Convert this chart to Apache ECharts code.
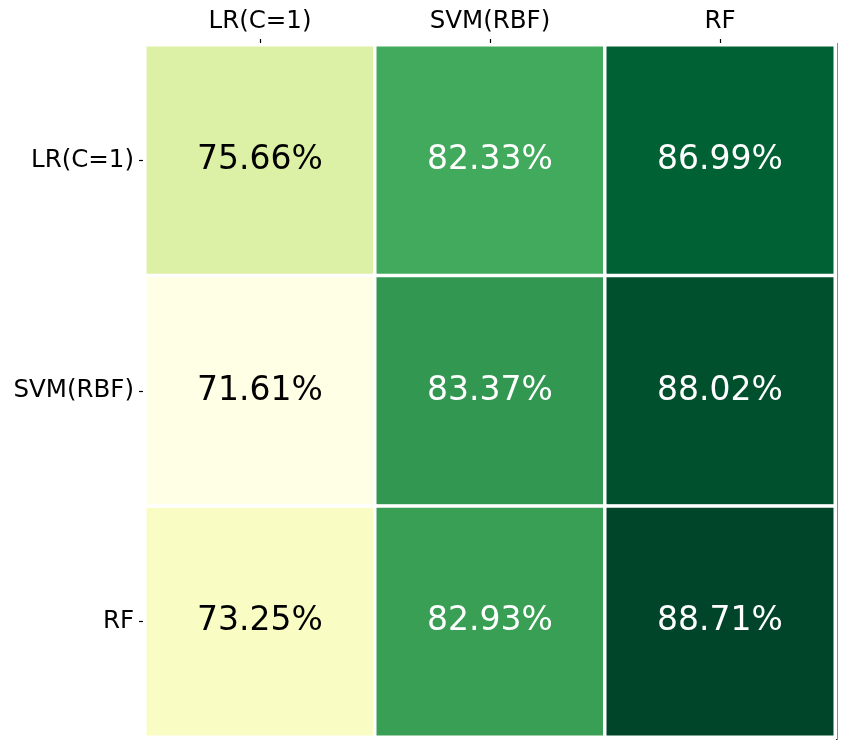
<!DOCTYPE html>
<html>
<head>
<meta charset="utf-8">
<script src="https://cdn.jsdelivr.net/npm/echarts@6/dist/echarts.min.js"></script>
<style>
  html, body { margin: 0; padding: 0; background: #fff; }
  #chart { width: 847px; height: 748px; }
</style>
</head>
<body>
<div id="chart"></div>
<script>
// categories (columns = top axis, rows = left axis)
var colLabels = ['LR(C=1)', 'SVM(RBF)', 'RF'];
var rowLabels = ['LR(C=1)', 'SVM(RBF)', 'RF'];

// accuracy per row, one array per row
var rowLR  = [75.66, 82.33, 86.99];
var rowSVM = [71.61, 83.37, 88.02];
var rowRF  = [73.25, 82.93, 88.71];
var rows = [rowLR, rowSVM, rowRF];

// YlGn colormap
var ylgn = ['#ffffe5', '#f7fcb9', '#d9f0a3', '#addd8e', '#78c679',
            '#41ab5d', '#238443', '#006837', '#004529'];

var cells = [];
var allVals = [];
rows.forEach(function(r, i) {
  r.forEach(function(v, j) {
    allVals.push(v);
    cells.push({
      value: [j, i, v],
      label: { color: v > 80 ? '#ffffff' : '#000000' }
    });
  });
});
var vMin = Math.min.apply(null, allVals);
var vMax = Math.max.apply(null, allVals);

var font = 'DejaVu Sans';
var chart = echarts.init(document.getElementById('chart'));

var option = {
  backgroundColor: '#fff',
  animation: false,
  textStyle: { fontFamily: font },
  grid: { left: 145, top: 45, width: 690, height: 692 },
  xAxis: {
    type: 'category',
    position: 'top',
    data: colLabels,
    axisLine: { show: false },
    axisTick: { show: true, alignWithLabel: true, length: 6, lineStyle: { color: '#000', width: 1.2 } },
    axisLabel: { fontFamily: font, fontSize: 24.5, color: '#000', margin: 11 },
    splitLine: { show: false }
  },
  yAxis: {
    type: 'category',
    inverse: true,
    data: rowLabels,
    axisLine: { show: false },
    axisTick: { show: true, alignWithLabel: true, length: 6, lineStyle: { color: '#000', width: 1.2 } },
    axisLabel: { fontFamily: font, fontSize: 24.5, color: '#000', margin: 11 },
    splitLine: { show: false }
  },
  visualMap: {
    show: false,
    type: 'continuous',
    min: vMin,
    max: vMax,
    dimension: 2,
    inRange: { color: ylgn }
  },
  graphic: [{
    type: 'rect',
    left: 836,
    top: 43,
    shape: { width: 1.5, height: 697 },
    style: { fill: '#1a1a1a' }
  }],
  series: [{
    type: 'heatmap',
    data: cells,
    itemStyle: { borderColor: '#fff', borderWidth: 3.5 },
    label: {
      show: true,
      fontFamily: font,
      fontSize: 33,
      formatter: function(p) { return p.value[2].toFixed(2) + '%'; }
    },
    emphasis: { disabled: true }
  }]
};

chart.setOption(option);
</script>
</body>
</html>
